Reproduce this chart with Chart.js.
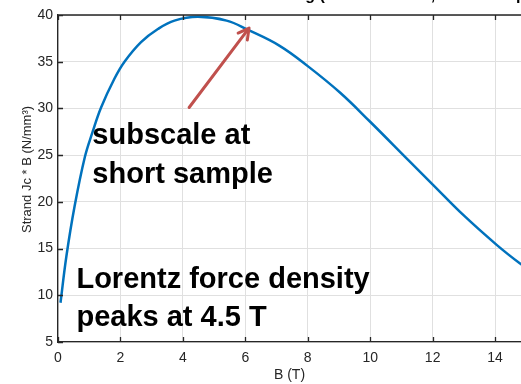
<!DOCTYPE html>
<html>
<head>
<meta charset="utf-8">
<script src="https://cdn.jsdelivr.net/npm/chart.js@4.4.0/dist/chart.umd.min.js"></script>
<style>
  html, body { margin: 0; padding: 0; background: #fff; overflow: hidden; }
  #wrap { width: 521px; height: 384px; }
</style>
</head>
<body>
<div id="wrap"><canvas id="forceChart" width="521" height="384"></canvas></div>
<script>
// field (T) and strand Jc*B (N/mm^3)
const fieldT = [0.08, 0.27, 0.53, 0.86, 1.1, 1.38, 1.81, 2.13, 2.66, 3.2, 3.73, 4.48, 5.4, 6.09, 7.1, 8.01, 9.03, 9.99, 11.27, 12.02, 12.98, 14.05, 14.8, 15.2];
const forceDensity = [9.2, 14.2, 19.5, 24.8, 27.4, 30.1, 33.2, 35.0, 37.1, 38.5, 39.4, 39.8, 39.4, 38.4, 36.7, 34.5, 31.7, 28.6, 24.3, 21.8, 18.6, 15.4, 13.4, 12.5];

const xTicks = [0, 2, 4, 6, 8, 10, 12, 14];
const yTicks = [5, 10, 15, 20, 25, 30, 35, 40];

// annotation text and arrow, in data units (B, Jc*B)
const noteSubscale = ['subscale at', 'short sample'];
const noteSubscaleAt = [1.1, 26.18];
const notePeak = ['Lorentz force density', 'peaks at 4.5 T'];
const notePeakAt = [0.59, 10.78];
const arrowFrom = [4.2, 30.1];
const arrowTo = [6.12, 38.6];

const chartTitle = 'Strand Lorentz Loading (Jc * B at 4.2 K, short sample)';

const axisColor = '#262626';
const gridColor = '#e0e0e0';
const fontFamily = '"Liberation Sans", Arial, Helvetica, sans-serif';

// MATLAB style box: top edge + inward tick marks
const boxPlugin = {
    id: 'boxTicks',
    afterDraw(chart) {
        const ctx = chart.ctx;
        const area = chart.chartArea;
        const xs = chart.scales.x, ys = chart.scales.y;
        ctx.save();
        ctx.strokeStyle = axisColor;
        ctx.lineWidth = 1.3;
        ctx.beginPath();
        ctx.moveTo(area.left, area.top);
        ctx.lineTo(area.right, area.top);
        xTicks.forEach(function (v) {
            const px = Math.round(xs.getPixelForValue(v)) + 0.5;
            ctx.moveTo(px, area.bottom);
            ctx.lineTo(px, area.bottom - 5);
            ctx.moveTo(px, area.top);
            ctx.lineTo(px, area.top + 5);
        });
        yTicks.forEach(function (v) {
            const py = Math.round(ys.getPixelForValue(v)) + 0.5;
            ctx.moveTo(area.left, py);
            ctx.lineTo(area.left + 5, py);
        });
        ctx.stroke();

        // title, mostly above the visible area
        ctx.fillStyle = '#000';
        ctx.font = 'bold 16px ' + fontFamily;
        ctx.textAlign = 'center';
        ctx.textBaseline = 'alphabetic';
        ctx.fillText(chartTitle, 340, 0);
        ctx.restore();
    },
    afterDatasetsDraw(chart) {
        const ctx = chart.ctx;
        const xs = chart.scales.x, ys = chart.scales.y;
        ctx.save();

        // arrow
        const x0 = xs.getPixelForValue(arrowFrom[0]), y0 = ys.getPixelForValue(arrowFrom[1]);
        const x1 = xs.getPixelForValue(arrowTo[0]), y1 = ys.getPixelForValue(arrowTo[1]);
        const ang = Math.atan2(y1 - y0, x1 - x0);
        ctx.strokeStyle = '#c0504d';
        ctx.lineWidth = 3;
        ctx.lineCap = 'round';
        ctx.lineJoin = 'round';
        ctx.beginPath();
        ctx.moveTo(x0, y0);
        ctx.lineTo(x1 - 2 * Math.cos(ang), y1 - 2 * Math.sin(ang));
        ctx.stroke();
        ctx.beginPath();
        ctx.moveTo(x1 - 12 * Math.cos(ang - 0.5), y1 - 12 * Math.sin(ang - 0.5));
        ctx.lineTo(x1, y1);
        ctx.lineTo(x1 - 12 * Math.cos(ang + 0.5), y1 - 12 * Math.sin(ang + 0.5));
        ctx.stroke();

        // notes
        ctx.fillStyle = '#000';
        ctx.font = 'bold 29px ' + fontFamily;
        ctx.textAlign = 'left';
        ctx.textBaseline = 'alphabetic';
        [[noteSubscale, noteSubscaleAt], [notePeak, notePeakAt]].forEach(function (n) {
            const px = xs.getPixelForValue(n[1][0]);
            const py = ys.getPixelForValue(n[1][1]);
            n[0].forEach(function (line, i) {
                ctx.fillText(line, px, py + i * 38.4);
            });
        });
        ctx.restore();
    }
};

const ctx = document.getElementById('forceChart').getContext('2d');
const forceChart = new Chart(ctx, {
    type: 'line',
    data: {
        datasets: [{
            label: 'Jc * B',
            data: fieldT.map((b, i) => ({ x: b, y: forceDensity[i] })),
            borderColor: '#0072bd',
            borderWidth: 2.5,
            pointRadius: 0,
            fill: false,
            tension: 0.4
        }]
    },
    options: {
        responsive: false,
        animation: false,
        layout: { padding: { top: 15, right: 0, left: 0, bottom: 0 } },
        plugins: {
            legend: { display: false },
            tooltip: { enabled: false }
        },
        scales: {
            x: {
                type: 'linear',
                min: 0,
                max: 14.83,
                afterFit: function (scale) { scale.height = 42; },
                grid: { color: gridColor, drawTicks: false },
                border: { color: axisColor, width: 1.3 },
                ticks: {
                    stepSize: 2,
                    includeBounds: false,
                    padding: 8,
                    color: axisColor,
                    maxRotation: 0,
                    font: { family: fontFamily, size: 14 }
                },
                title: {
                    display: true,
                    text: 'B (T)',
                    color: axisColor,
                    padding: { top: -3, bottom: 0 },
                    font: { family: fontFamily, size: 14 }
                }
            },
            y: {
                type: 'linear',
                min: 5,
                max: 40,
                afterFit: function (scale) { scale.width = 58; },
                grid: { color: gridColor, drawTicks: false },
                border: { color: axisColor, width: 1.3 },
                ticks: {
                    stepSize: 5,
                    padding: 5,
                    color: axisColor,
                    font: { family: fontFamily, size: 14 }
                },
                title: {
                    display: true,
                    text: '\u00a0\u00a0\u00a0\u00a0\u00a0Strand Jc * B (N/mm\u00b3)',
                    color: axisColor,
                    padding: { top: 20, bottom: 0 },
                    font: { family: fontFamily, size: 13 }
                }
            }
        }
    },
    plugins: [boxPlugin]
});
</script>
</body>
</html>
